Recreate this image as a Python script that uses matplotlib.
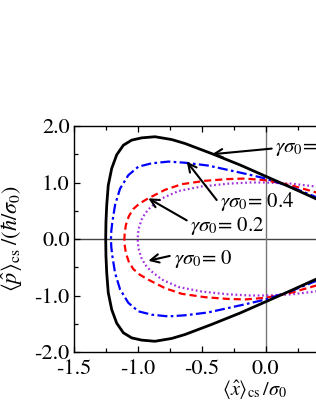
import numpy as np
import matplotlib
matplotlib.use("Agg")
import matplotlib.pyplot as plt

plt.rcParams['font.family'] = ['STIXGeneral', 'DejaVu Serif']
plt.rcParams['mathtext.fontset'] = 'stix'
plt.rcParams['axes.unicode_minus'] = False

# Upper halves of the closed trajectories (mirrored about p = 0)
x_g06 = [-1.25, -1.248, -1.242, -1.23, -1.203, -1.164, -1.112, -1.047, -0.969, -0.865, -0.734, -0.63, -0.42, -0.2, 0.0, 0.2, 0.385, 0.5]
p_g06 = [0.0, 0.30, 0.60, 0.95, 1.25, 1.49, 1.66, 1.75, 1.79, 1.81, 1.76, 1.69, 1.51, 1.31, 1.11, 0.91, 0.72, 0.61]

x_g04 = [-1.209, -1.206, -1.198, -1.177, -1.138, -1.073, -0.995, -0.89, -0.76, -0.63, -0.45, -0.29, -0.15, 0.0, 0.2, 0.385, 0.5]
p_g04 = [0.0, 0.15, 0.30, 0.60, 0.89, 1.13, 1.28, 1.34, 1.37, 1.35, 1.30, 1.22, 1.15, 1.07, 0.92, 0.75, 0.65]

x_g02 = [-1.104, -1.101, -1.092, -1.07, -1.035, -0.985, -0.917, -0.787, -0.656, -0.474, -0.30, -0.162, 0.0, 0.2, 0.385, 0.5]
p_g02 = [0.0, 0.12, 0.25, 0.40, 0.53, 0.63, 0.72, 0.87, 0.97, 1.03, 1.06, 1.07, 1.04, 0.95, 0.83, 0.75]

x_g00 = [-1.0, -0.998, -0.99, -0.97, -0.94, -0.90, -0.81, -0.68, -0.50, -0.29, -0.12, 0.0, 0.2, 0.385, 0.5]
p_g00 = [0.0, 0.09, 0.20, 0.34, 0.46, 0.56, 0.72, 0.85, 0.93, 0.98, 1.0, 1.0, 0.98, 0.93, 0.88]

labels = [r'$\gamma\sigma_0$= 0.6', r'$\gamma\sigma_0$= 0.4', r'$\gamma\sigma_0$= 0.2', r'$\gamma\sigma_0$= 0']
xticks = [-1.5, -1.0, -0.5, 0.0]
yticks = [-2.0, -1.0, 0.0, 1.0, 2.0]


def closed(xs, ps):
    xs = np.asarray(xs, float)
    ps = np.asarray(ps, float)
    X = np.concatenate([xs[::-1], xs[1:]])
    P = np.concatenate([-ps[::-1], ps[1:]])
    return X, P


fig = plt.figure(figsize=(3.16, 4.09), dpi=100)
# axes extend past the right edge of the figure (cropped like the reference)
L, B, H = 73.7 / 316, 1 - 352 / 409, 226 / 409
xlim = (-1.5, 1.3)
W = (xlim[1] - xlim[0]) * 128 / 316
ax = fig.add_axes([L, B, W, H])

ax.axhline(0, color='#444444', lw=1.0, zorder=1)
ax.axvline(0, color='#777777', lw=1.0, zorder=1)

X, P = closed(x_g06, p_g06)
ax.plot(X, P, color='black', lw=2.0, solid_capstyle='round', solid_joinstyle='round', zorder=5)
X, P = closed(x_g04, p_g04)
ax.plot(X, P, color='#0000FF', lw=1.6, linestyle=(0, (4.5, 1.5, 1.2, 1.5)), zorder=4)
X, P = closed(x_g02, p_g02)
ax.plot(X, P, color='#FF0000', lw=1.6, linestyle=(0, (3.2, 1.8)), zorder=3)
X, P = closed(x_g00, p_g00)
ax.plot(X, P, color='#A030E0', lw=1.6, linestyle=(0, (0.8, 1.2)), zorder=2)

ax.set_xlim(*xlim)
ax.set_ylim(-2.0, 2.0)
ax.set_xticks(xticks)
ax.set_yticks(yticks)
ax.set_xticklabels([f'{v:.1f}' for v in xticks])
ax.set_yticklabels([f'{v:.1f}' for v in yticks])
ax.set_xticks(np.arange(-1.5, 1.31, 0.25), minor=True)
ax.set_yticks(np.arange(-2.0, 2.01, 0.5), minor=True)
ax.tick_params(which='both', direction='in', top=True, right=False, labelsize=16)
ax.tick_params(axis='x', pad=5)
ax.tick_params(axis='y', pad=3)
ax.tick_params(which='major', length=4, width=0.9)
ax.tick_params(which='minor', length=3, width=0.9)
for s in ax.spines.values():
    s.set_linewidth(1.0)

ax.set_xlabel(r'$\langle\hat{x}\rangle_{\rm cs}\,/\sigma_0$', fontsize=14.5)
ax.xaxis.set_label_coords((254 - 73.7) / (W * 316), -(379 - 352) / 226)
ax.xaxis.label.set_va('top')
ax.set_ylabel(r'$\langle\hat{p}\rangle_{\rm cs}\;/(\hbar/\sigma_0)$', fontsize=16)
ax.yaxis.set_label_coords((25 - 73.7) / (W * 316), 0.5)

arrowprops = dict(arrowstyle='->,head_length=0.6,head_width=0.3', color='black', lw=1.5,
                  shrinkA=0, shrinkB=0)
ann = [
    (labels[0], (-0.42, 1.50), (0.047, 1.60), (0.075, 1.54)),
    (labels[1], (-0.617, 1.37), (-0.383, 0.69), (-0.357, 0.56)),
    (labels[2], (-0.917, 0.72), (-0.617, 0.33), (-0.59, 0.15)),
    (labels[3], (-0.917, -0.385), (-0.75, -0.30), (-0.716, -0.44)),
]
for txt, tip, tail, tpos in ann:
    ax.annotate('', xy=tip, xytext=tail, arrowprops=arrowprops, zorder=6)
    ax.text(tpos[0], tpos[1], txt, fontsize=15, ha='left', va='baseline', zorder=7)

fig.savefig('out.png', dpi=100)
